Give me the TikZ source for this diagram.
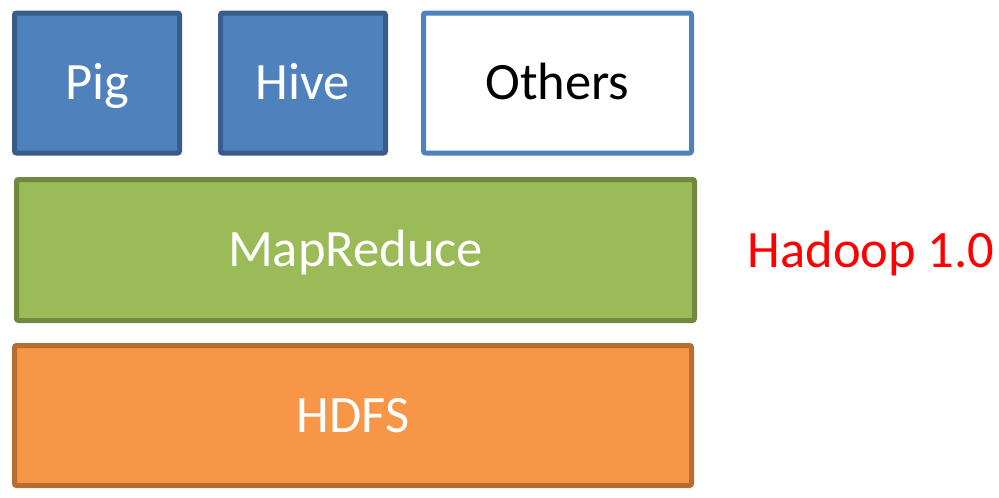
\documentclass[tikz,border=0pt]{standalone}
\usepackage{fontspec}
\setmainfont{Carlito}
\definecolor{pigfill}{HTML}{4F81BD}
\definecolor{pigline}{HTML}{385D8A}
\definecolor{mrfill}{HTML}{9BBB59}
\definecolor{mrline}{HTML}{71893F}
\definecolor{hdfill}{HTML}{F79646}
\definecolor{hdline}{HTML}{B66D31}
\begin{document}
\begin{tikzpicture}[x=1pt,y=-1pt,
  layerbox/.style={draw, line width=5pt, rounded corners=2pt, inner sep=0pt,
    font=\fontsize{52.5}{52.5}\selectfont, text height=33.5pt, text depth=0pt},
  bluebox/.style={layerbox, fill=pigfill, draw=pigline, text=white,
    minimum width=165pt, minimum height=140pt},
  otherbox/.style={layerbox, fill=white, draw=pigfill, text=black,
    minimum width=268pt, minimum height=140pt},
  mrbox/.style={layerbox, fill=mrfill, draw=mrline, text=white,
    minimum width=678pt, minimum height=141pt},
  hdbox/.style={layerbox, fill=hdfill, draw=hdline, text=white,
    minimum width=677pt, minimum height=140pt},
  tag/.style={inner sep=0pt, text=red, font=\fontsize{52.5}{52.5}\selectfont,
    text height=34pt, text depth=0pt}
]
\useasboundingbox (0,0) rectangle (999,498);
\node[bluebox] (pig) at (97,83) {Pig};
\node[bluebox] (hive) at (303,83) {Hive};
\node[otherbox] (others) at (557.5,83) {Others};
\node[mrbox] (mr) at (355.5,250) {MapReduce};
\node[hdbox] (hdfs) at (353,415.5) {HDFS};
\node[tag] (label) at (871,250) {Hadoop 1.0};
\end{tikzpicture}
\end{document}
